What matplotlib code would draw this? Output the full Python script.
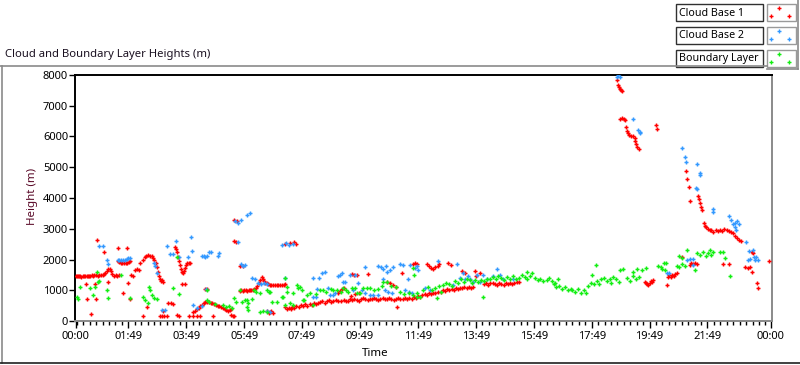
import matplotlib
matplotlib.use("Agg")
import matplotlib.pyplot as plt
from matplotlib.patches import Rectangle
from matplotlib.lines import Line2D
import numpy as np

# ---------------- data (time in hours, height in m) ----------------
cloud_base_1 = [
    (0.0,1470),(0.04,1460),(0.08,1450),(0.12,1460),(0.16,1450),(0.2,1440),(0.24,1450),(0.28,1460),
    (0.32,1450),(0.38,1460),(0.42,1470),(0.46,1460),(0.5,1470),(0.55,1480),(0.6,1470),(0.64,1490),
    (0.7,1480),(0.76,1470),(0.82,1480),(0.88,1490),(0.94,1500),(0.98,1520),
    (1.02,1560),(1.07,1640),(1.12,1700),(1.17,1680),(1.22,1620),(1.27,1540),
    (1.32,1460),(1.38,1480),(1.44,1470),(1.5,1490),
    (0.36,1200),(0.38,700),(0.53,230),(0.67,1200),(0.70,700),(0.72,2620),(0.99,2250),(1.12,1270),
    (1.46,1950),(1.5,1920),(1.55,1900),(1.6,1880),(1.66,1870),(1.72,1880),(1.78,1900),(1.84,1920),(1.88,1950),
    (1.46,2370),(1.77,2370),(1.62,900),(1.82,1235),(1.88,700),
    (1.92,1480),(1.98,1450),(2.05,1660),(2.12,1700),(2.2,1660),(2.22,1890),
    (2.32,2000),(2.38,2080),(2.44,2120),(2.5,2140),(2.56,2130),(2.62,2100),(2.68,2050),(2.72,1980),
    (2.76,1880),(2.8,1750),(2.84,1600),(2.87,1450),(2.9,1350),(2.94,1300),(2.97,1330),(3.0,1270),
    (2.33,160),(2.47,450),(2.9,160),(2.98,160),(3.05,160),(3.15,160),(3.02,330),
    (3.2,570),(3.28,580),(3.36,560),(3.5,180),(3.58,160),
    (3.44,2400),(3.48,2330),(3.5,2250),(3.53,2080),(3.56,1950),(3.6,1820),(3.63,1700),(3.66,1600),
    (3.7,1560),(3.74,1640),(3.78,1720),(3.82,1820),(3.86,1880),(3.9,1890),(3.95,1880),
    (3.67,1200),(3.76,1200),
    (3.92,160),(4.06,160),(4.19,160),(4.3,160),(4.75,160),
    (4.05,290),(4.12,330),(4.18,380),(4.25,430),(4.3,480),(4.36,530),(4.42,580),(4.48,610),(4.54,630),
    (4.6,620),(4.66,600),(4.72,570),(4.78,550),(4.84,530),(4.9,500),(4.96,480),(5.02,450),(5.08,420),
    (5.14,390),(5.2,360),(5.26,330),(5.32,350),(5.38,400),(5.36,180),(5.42,160),(5.48,170),
    (4.47,1040),(4.55,1040),
    (5.45,2600),(5.52,2560),(5.48,3280),(5.58,3250),(5.67,1790),(5.78,1800),
    (5.67,980),(5.72,1000),(5.77,990),(5.82,1010),(5.87,1000),(5.92,990),(5.97,1010),(6.02,1000),
    (6.07,1020),(6.12,1010),(6.17,1040),(6.22,1080),(6.27,1150),(6.32,1250),(6.37,1340),(6.42,1420),
    (6.46,1380),(6.5,1300),(6.55,1250),(6.6,1220),(6.65,1200),(6.7,1180),(6.76,1170),(6.82,1160),
    (6.88,1170),(6.94,1180),(7.0,1170),(7.06,1180),(7.12,1170),(7.18,1180),(7.24,1190),
    (6.61,310),(6.66,260),(6.71,290),(6.76,330),(6.81,270),
    (7.23,2500),(7.4,2540),(7.55,2580),(7.6,2520),
    (7.22,450),(7.28,400),(7.35,430),(7.42,380),(7.48,460),(7.55,420),(7.62,480),(7.7,450),(7.78,510),
    (7.85,480),(7.92,540),(8.0,500),(8.08,560),(8.15,530),(8.22,580),(8.3,550),(8.38,600),
    (8.45,620),(8.52,650),(8.6,600),(8.68,640),(8.75,670),(8.82,630),(8.9,660),(8.98,690),(9.05,640),
    (9.15,660),(9.25,690),(9.32,640),
    (9.4,650),(9.48,700),(9.55,680),(9.62,720),(9.7,690),(9.78,660),(9.85,700),(9.92,740),(10.0,710),
    (10.08,680),(10.15,720),(10.22,700),(10.3,740),(10.38,710),(10.45,690),(10.52,730),(10.6,760),
    (10.68,720),(10.75,700),(10.82,740),(10.9,710),(10.98,680),(11.05,720),(11.12,750),(11.2,700),
    (9.05,920),(9.12,980),(9.2,1040),(9.28,1070),(9.5,820),(9.65,880),(9.8,900),
    (9.55,1520),(9.62,1480),(9.7,1500),(10.1,1530),
    (10.75,1270),(10.85,1220),(10.95,1170),(11.05,1120),(11.1,455),(11.28,1560),
    (11.65,1860),(11.72,1890),(11.8,1850),
    (12.13,1850),(12.2,1780),(12.28,1720),(12.35,1690),(12.42,1740),(12.5,1800),(12.56,1850),
    (12.87,1890),(12.95,1820),
    (11.3,700),(11.38,740),(11.45,720),(11.52,760),(11.6,730),(11.68,780),(11.75,750),(11.82,800),
    (11.9,790),(11.97,850),(12.05,880),(12.13,830),(12.2,900),(12.28,870),(12.35,920),(12.42,900),(12.5,950),
    (12.6,950),(12.68,1000),(12.75,980),(12.82,1030),(12.9,1010),(12.98,1050),(13.05,1020),(13.12,1070),
    (13.2,1040),(13.28,1080),(13.35,1060),(13.42,1090),(13.5,1080),(13.58,1100),(13.65,1070),(13.72,1100),
    (13.35,1630),(13.45,1550),(13.8,1620),(13.83,1460),(13.97,1560),
    (14.1,1200),(14.18,1230),(14.25,1180),(14.32,1220),(14.4,1250),(14.48,1200),(14.55,1170),(14.62,1230),
    (14.7,1210),(14.78,1180),(14.85,1240),(14.92,1200),(15.0,1220),(15.08,1190),(15.15,1250),(15.25,1270),(15.32,1280),
    (18.69,7840),(18.72,7680),(18.76,7600),(18.8,7550),(18.84,7500),(18.88,7480),
    (18.78,6580),(18.85,6600),(18.92,6560),(18.98,6540),(19.0,6300),(19.03,6180),
    (19.08,6100),(19.12,6050),(19.18,6030),(19.25,6000),(19.3,5950),
    (19.32,5850),(19.36,5750),(19.4,5650),(19.45,5580),(20.05,6370),(20.08,6260),
    (19.66,1280),(19.7,1230),(19.74,1200),(19.78,1180),(19.82,1240),(19.86,1300),(19.9,1270),(19.95,1330),
    (20.42,1170),(20.45,1430),(20.5,1480),(20.55,1440),(20.6,1500),(20.65,1460),(20.7,1520),(20.75,1560),
    (20.93,2080),
    (21.08,4880),(21.11,4620),(21.18,4360),(21.21,3900),
    (21.48,4070),(21.52,3960),(21.56,3850),(21.6,3720),(21.64,3600),
    (21.68,3190),(21.72,3100),(21.78,3050),(21.84,2990),(21.9,2960),
    (21.95,2960),(22.02,2900),(22.1,2950),(22.18,2920),(22.25,2960),(22.32,2940),(22.4,2980),(22.48,2950),
    (22.55,2920),(22.62,2900),(22.7,2850),(22.78,2780),(22.85,2700),(22.92,2640),(22.98,2600),
    (21.2,1830),(21.25,1880),(21.32,1860),(21.4,1890),(21.45,1850),
    (22.35,1850),(22.55,1860),
    (23.12,1760),(23.2,1720),(23.28,1750),(23.35,1590),(23.37,2240),(23.39,2210),
    (23.52,1230),(23.55,1070),(23.94,1950),
]

cloud_base_2 = [
    (0.8,2440),(0.95,2440),(1.09,1980),(1.12,1850),
    (1.45,1980),(1.5,2000),(1.55,1990),(1.62,1970),(1.7,1990),(1.78,2010),(1.82,2050),(1.88,2040),
    (2.7,1890),(2.75,1780),(2.8,1560),(2.98,360),(3.1,350),
    (3.15,2440),(3.26,2180),(3.36,2180),(3.46,2600),(3.56,2080),(3.88,2080),(3.98,2730),(4.02,2280),
    (4.37,2130),(4.42,2100),(4.47,2080),(4.52,2110),(4.61,2240),(4.66,2250),(4.95,2210),(4.93,2110),
    (4.05,520),(4.2,420),(4.35,500),(4.5,1040),
    (5.5,3250),(5.6,3200),(5.7,3280),(5.92,3450),(6.02,3510),
    (5.62,2560),(5.72,1850),(5.78,1800),(5.84,1830),
    (6.1,1400),(6.18,1380),(6.3,1230),(6.4,1200),(6.5,1220),(6.6,1190),(6.62,330),(6.7,300),
    (7.12,2470),(7.25,2540),(7.35,2480),(7.5,2500),(7.23,1400),
    (8.2,780),(8.3,780),(8.34,1040),(8.2,1400),(8.4,1400),(8.5,1560),(8.6,1580),(8.7,1070),(8.78,850),
    (8.88,830),(8.95,900),(9.06,1450),(9.13,1500),(9.2,1560),(9.22,1270),(9.3,1270),(9.47,1500),
    (9.58,1000),(9.64,1500),(9.75,1240),(9.88,1000),(9.98,910),(9.99,1760),(10.16,850),(10.28,850),
    (10.44,850),(10.45,1800),(10.55,1750),(10.62,1370),(10.6,1690),(10.7,1790),(10.75,1600),(10.85,1650),
    (10.68,1000),(10.8,940),(10.92,900),(10.97,1760),(11.2,1850),(11.3,1820),(11.38,1000),(11.48,1370),
    (11.5,940),(11.55,1820),(11.62,910),(11.72,1720),(11.78,1800),(11.83,1660),(12.06,1070),(12.23,1000),
    (12.52,1950),(13.03,1170),(13.17,1850),(13.28,1400),(13.37,1560),(13.45,1350),(13.55,1460),(13.62,1380),
    (13.72,1270),(13.85,1500),(13.96,1270),(14.06,1480),(14.2,1370),(14.41,1460),(14.55,1690),(14.65,1500),
    (14.75,1370),(15.1,1370),
    (18.68,7950),(18.72,7990),(18.78,7930),(19.24,6570),(19.43,6200),(19.47,6150),(19.5,6100),
    (20.93,5630),(21.04,5330),(21.08,5170),(21.45,5100),(21.55,4800),(21.56,4750),
    (21.42,4330),(21.45,4290),(22.0,3650),(22.02,3560),
    (22.55,3410),(22.62,3300),(22.7,3150),(22.78,3200),(22.85,3250),(22.9,3170),(22.77,3050),(22.8,2950),
    (23.15,2570),(23.25,2280),(23.42,2080),(23.48,2080),(21.2,2010),(21.3,2010),
    (20.42,1560),(20.5,1560),(21.11,1980),(21.31,1820),
    (23.22,2000),(23.3,2020),(23.45,1980),(23.55,2000),(23.4,2300),
]

boundary_layer = [
    (0.05,780),(0.08,715),(0.15,1100),(0.49,1070),(0.6,845),(0.67,1100),(0.72,1600),(0.77,1270),(0.82,1300),
    (1.08,1000),(1.1,750),(1.57,1500),(1.88,750),
    (2.33,780),(2.4,680),(2.48,600),(2.54,1100),(2.57,1000),(2.64,850),(2.72,750),(2.8,700),
    (3.36,1070),(3.5,2080),(3.58,880),
    (4.53,1000),(4.53,680),(4.62,620),(4.8,560),
    (5.1,520),(5.2,450),(5.3,480),(5.4,420),(5.45,750),(5.55,620),(5.67,1000),(5.75,620),(5.85,680),
    (5.9,680),(5.95,590),(5.92,455),(5.96,358),(6.09,715),(6.14,1000),(6.22,940),(6.36,910),(6.36,300),
    (6.47,330),(6.6,300),(6.6,1000),(6.66,950),(6.7,950),(6.78,620),(6.95,620),(7.12,780),(7.16,780),
    (7.23,1400),(7.23,520),(7.29,1100),(7.31,940),(7.41,585),(7.5,520),(7.5,900),(7.64,1170),(7.68,1070),
    (7.75,1100),(7.8,1000),(7.85,680),(7.9,680),(8.0,850),(8.1,900),(8.2,520),(8.3,880),(8.44,1000),
    (8.54,1000),(8.65,950),(8.8,1050),(8.9,1000),(9.02,1000),(9.15,950),(9.24,1070),(9.35,1000),
    (9.4,940),(9.55,1070),(9.65,1070),(9.72,910),(9.82,910),(9.93,1070),(10.06,1070),(10.16,1070),
    (10.3,1000),(10.45,1050),(10.57,1140),(10.62,1270),(10.75,1270),(10.9,1150),(11.05,1100),
    (11.2,940),(11.35,880),(11.5,910),(11.65,850),(11.67,1500),(11.65,1720),(11.78,900),(11.79,780),
    (11.9,780),(12.0,1000),(12.17,1100),(12.3,1000),(12.42,1070),(12.47,750),(12.55,1140),(12.6,950),
    (12.7,1170),(12.8,1230),(12.9,1200),(13.0,1130),(13.1,1300),(13.2,1250),(13.3,1350),(13.4,1280),
    (13.5,1380),(13.6,1320),(13.7,1240),(13.8,1340),(13.9,1280),(14.07,780),
    (14.0,1330),(14.1,1300),(14.2,1380),(14.3,1350),(14.4,1420),(14.5,1380),(14.6,1450),(14.7,1400),
    (14.8,1330),(14.9,1420),(15.0,1380),(15.1,1450),(15.2,1350),(15.3,1400),(15.4,1480),(15.5,1420),
    (15.6,1380),(15.7,1450),(15.6,1580),(15.75,1560),(15.85,1400),(15.95,1330),(16.05,1370),(16.15,1300),
    (16.27,1330),(16.35,1400),(16.45,1300),(16.55,1240),(16.65,1350),
    (16.5,1200),(16.6,1100),(16.7,1150),(16.8,1050),(16.9,1100),(17.0,1000),(17.1,1050),
    (17.15,1000),(17.25,950),(17.35,1050),(17.45,920),(17.55,1000),(17.62,900),
    (17.7,1150),(17.8,1250),(17.9,1200),(18.0,1300),(18.08,1200),(17.83,1500),(17.95,1820),
    (18.15,1350),(18.25,1400),(18.35,1300),(18.45,1380),(18.55,1420),(18.5,1250),(18.65,1350),(18.75,1280),
    (18.8,1660),(18.9,1700),
    (19.05,1400),(19.15,1300),(19.25,1450),(19.35,1350),(19.45,1420),
    (19.25,1600),(19.4,1700),(19.55,1650),(19.7,1720),
    (20.1,1800),(20.2,1760),(20.25,1700),(20.3,1890),(20.4,1890),(20.35,1650),
    (20.75,1800),(20.85,1750),(20.95,1850),(21.05,1780),(20.85,2100),(20.95,2050),(21.1,2300),(21.4,1660),
    (21.45,2200),(21.55,2150),(21.65,2250),(21.75,2100),(21.85,2200),(21.95,2150),(21.9,2300),(22.0,2250),
    (22.25,2240),(22.35,2260),(22.42,2050),(22.58,1460),
]

series_names = ["Cloud Base 1", "Cloud Base 2", "Boundary Layer"]
series_colors = ["#ff0000", "#3399ff", "#11ee11"]
series_data = [cloud_base_1, cloud_base_2, boundary_layer]

y_ticks = [0, 1000, 2000, 3000, 4000, 5000, 6000, 7000, 8000]
x_major_hours = [0.0] + [1 + 49/60 + 2*k for k in range(11)] + [24.0]
x_major_labels = ["00:00"] + ["%02d:49" % (1 + 2*k) for k in range(11)] + ["00:00"]

# ---------------- figure ----------------
W, H = 800, 365
fig = plt.figure(figsize=(W/100, H/100), dpi=100)
fig.patch.set_facecolor("white")
FONT = "Noto Sans"

def fx(px):
    return px / W

def fy(py):
    return 1 - py / H

ax_l, ax_r, ax_t, ax_b = 75, 772, 75, 321
ax = fig.add_axes([fx(ax_l), fy(ax_b), fx(ax_r - ax_l), (ax_b - ax_t) / H])
ax.set_facecolor("white")

for name, col, data in zip(series_names, series_colors, series_data):
    t = [p[0] for p in data]
    h = [p[1] for p in data]
    ax.scatter(t, h, marker="+", s=12, linewidths=1.05, color=col, zorder=3, clip_on=True)

px_per_h = (770.7 - 75.7) / 24
ax.set_xlim(-(75.7 - ax_l) / px_per_h, 24 + (ax_r - 770.7) / px_per_h)
ax.set_ylim(0, 8000)

ax.set_yticks(y_ticks)
ax.set_yticklabels([str(v) for v in y_ticks], fontsize=8, family=FONT)
ax.set_xticks(x_major_hours)
ax.set_xticklabels(x_major_labels, fontsize=8, family=FONT)
minor = [1 + 49/60 + k * (2/9) for k in range(-8, 100)]
minor = [m for m in minor if 0 <= m <= 24]
ax.set_xticks(minor, minor=True)
ax.tick_params(axis="x", which="major", direction="out", length=5, width=1, color="black", pad=2)
ax.tick_params(axis="x", which="minor", direction="out", length=3, width=1, color="black")
ax.tick_params(axis="y", which="major", direction="out", length=4, width=1, color="black", pad=1)

for side in ["left", "top"]:
    ax.spines[side].set_color("black")
    ax.spines[side].set_linewidth(1.4)
for side in ["right", "bottom"]:
    ax.spines[side].set_color("#8a8a8a")
    ax.spines[side].set_linewidth(1.4)

fig.text(fx(375), fy(354), "Time", fontsize=8.3, family=FONT, ha="center", va="center", color="black")
fig.text(fx(33), fy(196), "Height (m)", fontsize=8.3, family=FONT, ha="center", va="center",
         rotation=90, color="#5a0a28")
fig.text(fx(5), fy(54), "Cloud and Boundary Layer Heights (m)", fontsize=8.1, family=FONT,
         ha="left", va="center", color="#1a1020")

# frame lines
def hline(x0, x1, y, col, lw=1.0):
    fig.add_artist(Line2D([fx(x0), fx(x1)], [fy(y), fy(y)], color=col, lw=lw))

def vline(x, y0, y1, col, lw=1.0):
    fig.add_artist(Line2D([fx(x), fx(x)], [fy(y0), fy(y1)], color=col, lw=lw))

hline(0, 767, 66, "#8a8a8a", 1.2)
vline(1.5, 66, 363, "#8a8a8a", 1.2)
hline(0, 800, 363, "#202020", 1.2)
vline(798, 0, 69, "#8a8a8a", 1.2)
hline(767, 798, 69, "#8a8a8a", 1.2)

# legend
rows_y = [(4, 21), (27, 44), (50, 67)]
leg_pts = [(779, 0.25), (770.5, 0.72), (789, 0.72)]
for (y0, y1), name, col in zip(rows_y, series_names, series_colors):
    fig.add_artist(Rectangle((fx(676), fy(y1)), fx(763 - 676), (y1 - y0) / H,
                             facecolor="white", edgecolor="#303030", lw=1.0))
    fig.text(fx(679), fy((y0 + y1) / 2 + 0.5), name, fontsize=7.7, family=FONT,
             ha="left", va="center", color="black")
    fig.add_artist(Rectangle((fx(767), fy(y1)), fx(796 - 767), (y1 - y0) / H,
                             facecolor="white", edgecolor="#9a9a9a", lw=1.0))
    for lx, frac in leg_pts:
        yy = y0 + frac * (y1 - y0)
        fig.add_artist(Line2D([fx(lx)], [fy(yy)], marker="+", markersize=3.2,
                              markeredgewidth=1.0, color=col, linestyle="none"))

fig.savefig("out.png", dpi=100, facecolor="white")
